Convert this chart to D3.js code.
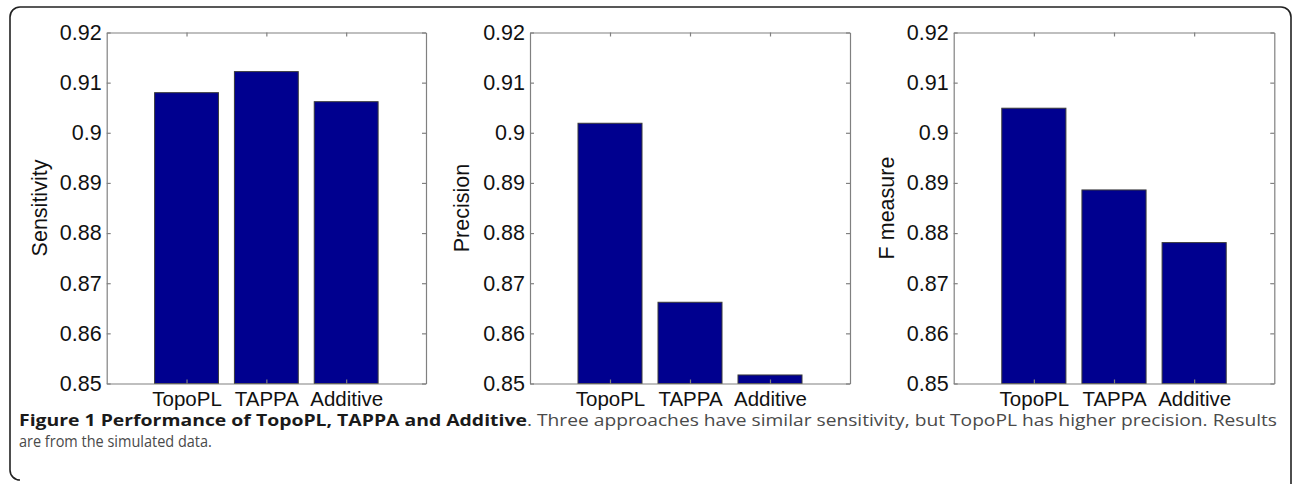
<!DOCTYPE html>
<html>
<head>
<meta charset="utf-8">
<script src="https://cdn.jsdelivr.net/npm/d3@7"></script>
<style>
  html, body { margin: 0; padding: 0; background: #fff; }
  svg { display: block; }
</style>
</head>
<body>
<svg id="chart" width="1292" height="484"></svg>
<script>
// ---- data ----
const categories = ["TopoPL", "TAPPA", "Additive"];
const sensitivity = [0.9080, 0.9122, 0.9062];
const precision = [0.9019, 0.8662, 0.8517];
const fMeasure = [0.9049, 0.8886, 0.8781];
const yTicks = [0.85, 0.86, 0.87, 0.88, 0.89, 0.90, 0.91, 0.92];
const yTickLabels = ["0.85", "0.86", "0.87", "0.88", "0.89", "0.9", "0.91", "0.92"];
const yTitles = ["Sensitivity", "Precision", "F measure"];
const captionBold = "Figure 1 Performance of TopoPL, TAPPA and Additive";
const captionRest = ". Three approaches have similar sensitivity, but TopoPL has higher precision. Results";
const captionLine2 = "are from the simulated data.";

const seriesList = [sensitivity, precision, fMeasure];

// ---- layout ----
const svg = d3.select("#chart");
const plotTop = 32.5, plotBottom = 383.5;
const panelX = [[106.7, 426], [530, 850], [953.7, 1274.3]];
const titleX = [39, 461, 886];
const font = "'Liberation Sans', Arial, Helvetica, sans-serif";
const axisGray = "#808080";
const barColor = "#00008F";

// outer frame
svg.append("path")
  .attr("d", "M10,470 A10,10 0 0 0 20,480 M10,470 L10,17 A10,10 0 0 1 20,7 L1281,7 A10,10 0 0 1 1291,17 L1291,484")
  .attr("fill", "none").attr("stroke", "#222").attr("stroke-width", 1.6);

const y = d3.scaleLinear().domain([0.85, 0.92]).range([plotBottom, plotTop]);

seriesList.forEach((vals, p) => {
  const [L, R] = panelX[p];
  const x = d3.scaleLinear().domain([0, 4]).range([L, R]);
  const g = svg.append("g");

  // bars
  g.selectAll("rect.bar").data(vals).enter().append("rect")
    .attr("class", "bar")
    .attr("x", (d, i) => x(i + 1 - 0.4))
    .attr("width", (d, i) => x(i + 1 + 0.4) - x(i + 1 - 0.4))
    .attr("y", d => y(d))
    .attr("height", d => y(0.85) - y(d))
    .attr("fill", barColor)
    .attr("stroke", "#3a3a3a").attr("stroke-width", 1);

  // axes
  const fmt = d => yTickLabels[yTicks.indexOf(d)];
  const yAxisL = d3.axisLeft(y).tickValues(yTicks).tickFormat(fmt).tickSizeInner(-4).tickSizeOuter(0).tickPadding(5);
  const yAxisR = d3.axisRight(y).tickValues(yTicks).tickFormat("").tickSizeInner(-4).tickSizeOuter(0);
  const xAxisT = d3.axisTop(x).tickValues([1, 2, 3]).tickFormat("").tickSizeInner(-4).tickSizeOuter(0);
  const xAxisB = d3.axisBottom(x).tickValues([1, 2, 3]).tickFormat((d) => categories[d - 1]).tickSizeInner(-4).tickSizeOuter(0).tickPadding(8);

  const gl = g.append("g").attr("transform", `translate(${L},0)`).call(yAxisL);
  const gr = g.append("g").attr("transform", `translate(${R},0)`).call(yAxisR);
  const gt = g.append("g").attr("transform", `translate(0,${plotTop})`).call(xAxisT);
  const gb = g.append("g").attr("transform", `translate(0,${plotBottom})`).call(xAxisB);

  [gl, gr, gt, gb].forEach(a => {
    a.select(".domain").attr("stroke", axisGray).attr("stroke-width", 1.2);
    a.selectAll(".tick line").attr("stroke", axisGray).attr("stroke-width", 1.2);
    a.selectAll("text").attr("fill", "#111").style("font-family", font).style("font-size", "21.5px");
  });
  gb.selectAll("text").attr("dy", "0.71em").style("font-size", "20.5px");

  // y title
  g.append("text")
    .attr("transform", `translate(${titleX[p]},${(plotTop + plotBottom) / 2}) rotate(-90)`)
    .attr("text-anchor", "middle").attr("dy", "0.35em")
    .style("font-family", font).style("font-size", "21.5px").attr("fill", "#111")
    .text(yTitles[p]);
});

// caption (justified first line)
const capFont = "'Open Sans', 'Noto Sans', sans-serif";
const capSize = "16.5px";
const capX = 19, capRight = 1277, base1 = 426, base2 = 447;

const boldT = svg.append("text")
  .style("font-family", capFont).style("font-size", capSize).style("font-weight", "bold").attr("fill", "#1a1a1a")
  .text(captionBold);
const sxBold = (527 - capX) / boldT.node().getComputedTextLength();
boldT.attr("transform", `translate(${capX},${base1}) scale(${sxBold},1)`);
const boldEnd = 527;

const line2 = svg.append("text")
  .style("font-family", capFont).style("font-size", capSize).attr("fill", "#4a4a4a")
  .text(captionLine2);
const sxReg = Math.min(1, (212 - capX) / line2.node().getComputedTextLength());
line2.attr("transform", `translate(${capX},${base2}) scale(${sxReg},1)`);

svg.append("text")
  .style("font-family", capFont).style("font-size", capSize).attr("fill", "#4a4a4a")
  .attr("x", boldEnd).attr("y", base1)
  .attr("textLength", capRight - boldEnd).attr("lengthAdjust", "spacingAndGlyphs")
  .text(captionRest);
</script>
</body>
</html>
